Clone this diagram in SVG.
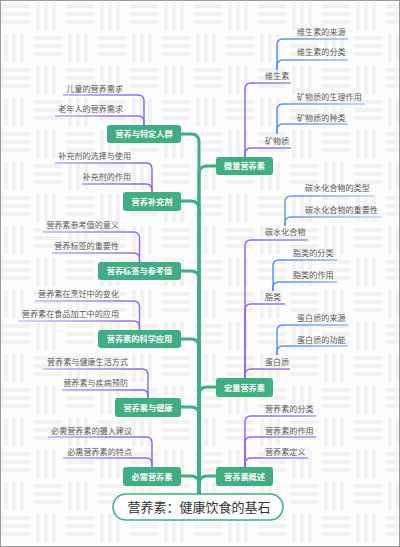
<svg xmlns="http://www.w3.org/2000/svg" width="400" height="547" viewBox="0 0 400 547">
<defs>
<pattern id="bg" x="0" y="0" width="64" height="64" patternUnits="userSpaceOnUse">
<rect width="64" height="64" fill="#fdfdfd"/>
<g fill="#f2f2f2">
<rect x="2" y="4" width="28" height="4"/><rect x="2" y="12" width="28" height="4"/><rect x="2" y="20" width="28" height="4"/>
<rect x="36" y="2" width="4" height="28"/><rect x="44" y="2" width="4" height="28"/><rect x="52" y="2" width="4" height="28"/>
<rect x="4" y="34" width="4" height="28"/><rect x="12" y="34" width="4" height="28"/><rect x="20" y="34" width="4" height="28"/>
<rect x="34" y="36" width="28" height="4"/><rect x="34" y="44" width="28" height="4"/><rect x="34" y="52" width="28" height="4"/>
</g>
</pattern>
<linearGradient id="gL" gradientUnits="userSpaceOnUse" x1="10" y1="0" x2="150" y2="0"><stop offset="0" stop-color="#d8cbf8"/><stop offset="1" stop-color="#8a62e6"/></linearGradient>
<linearGradient id="gR" gradientUnits="userSpaceOnUse" x1="390" y1="0" x2="245" y2="0"><stop offset="0" stop-color="#d8cbf8"/><stop offset="1" stop-color="#8a62e6"/></linearGradient>
<linearGradient id="gB" gradientUnits="userSpaceOnUse" x1="395" y1="0" x2="275" y2="0"><stop offset="0" stop-color="#cfe0f8"/><stop offset="1" stop-color="#4f8fe8"/></linearGradient>
<style>
.trunk{fill:none;stroke:#41ad83;stroke-width:3;stroke-linecap:round}
.pl{fill:none;stroke:url(#gL);stroke-width:1.4}
.pr{fill:none;stroke:url(#gR);stroke-width:1.4}
.bl{fill:none;stroke:url(#gB);stroke-width:1.4}
.box{fill:#41ad83}
.bt{font-family:"Noto Sans CJK SC","Noto Sans",sans-serif;font-size:8.2px;font-weight:bold;fill:#fff;text-anchor:middle}
.t{font-family:"Noto Sans CJK SC","Noto Sans",sans-serif;font-size:8.1px;fill:#5a5a5a}
.te{text-anchor:end}
.root{fill:#fff;stroke:#41ad83;stroke-width:1.5}
.rt{font-family:"Noto Sans CJK SC","Noto Sans",sans-serif;font-size:13px;fill:#333;text-anchor:middle}
</style>
</defs>
<rect width="400" height="547" fill="url(#bg)"/>
<rect x="0.5" y="0.5" width="399" height="546" fill="none" stroke="#9a9a9a"/>

<g id="connectors">
<path class="trunk" d="M199 494 V142 Q199 134 191 134 H181"/>
<path class="trunk" d="M199 494 V209 Q199 201 191 201 H181"/>
<path class="trunk" d="M199 494 V279 Q199 271 191 271 H181"/>
<path class="trunk" d="M199 494 V347 Q199 339 191 339 H181"/>
<path class="trunk" d="M199 494 V415 Q199 407 191 407 H181"/>
<path class="trunk" d="M199 494 V484 Q199 476 191 476 H181"/>
<path class="trunk" d="M199 494 V174 Q199 166 207 166 H216"/>
<path class="trunk" d="M199 494 V395 Q199 387 207 387 H216"/>
<path class="trunk" d="M199 494 V484 Q199 476 207 476 H216"/>

<path class="pl" d="M144 125 V101 Q144 95 138 95 H63"/>
<path class="pl" d="M144 125 V122 Q144 116 138 116 H55"/>
<path class="pl" d="M152 192 V169 Q152 163 146 163 H55"/>
<path class="pl" d="M152 192 V190 Q152 184 146 184 H82"/>
<path class="pl" d="M139.5 262 V238 Q139.5 232 133.5 232 H43"/>
<path class="pl" d="M139.5 262 V259 Q139.5 253 133.5 253 H52"/>
<path class="pl" d="M139.5 330 V307 Q139.5 301 133.5 301 H35"/>
<path class="pl" d="M139.5 330 V327 Q139.5 321 133.5 321 H18"/>
<path class="pl" d="M148 398 V375 Q148 369 142 369 H43"/>
<path class="pl" d="M148 398 V396 Q148 390 142 390 H62"/>
<path class="pl" d="M152 467 V443 Q152 437 146 437 H48"/>
<path class="pl" d="M152 467 V464 Q152 458 146 458 H63"/>

<path class="pr" d="M245 157 V89 Q245 83 251 83 H291"/>
<path class="pr" d="M245 157 V154 Q245 148 251 148 H291"/>
<path class="pr" d="M245 378 V246 Q245 240 251 240 H308"/>
<path class="pr" d="M245 378 V310 Q245 304 251 304 H285"/>
<path class="pr" d="M245 378 V375 Q245 369 251 369 H290"/>
<path class="pr" d="M245 467 V422 Q245 416 251 416 H316"/>
<path class="pr" d="M245 467 V443 Q245 437 251 437 H316"/>
<path class="pr" d="M245 467 V464 Q245 458 251 458 H308"/>

<path class="bl" d="M277 70 V45 Q277 39 283 39 H348"/>
<path class="bl" d="M277 70 V66 Q277 60 283 60 H348"/>
<path class="bl" d="M277 134 V110 Q277 104 283 104 H365"/>
<path class="bl" d="M277 134 V130 Q277 124 283 124 H348"/>
<path class="bl" d="M285 226 V202 Q285 196 291 196 H373"/>
<path class="bl" d="M285 226 V223 Q285 217 291 217 H382"/>
<path class="bl" d="M273 291 V266 Q273 260 279 260 H337"/>
<path class="bl" d="M273 291 V288 Q273 282 279 282 H337"/>
<path class="bl" d="M277 355 V331 Q277 325 283 325 H348"/>
<path class="bl" d="M277 355 V352 Q277 346 283 346 H348"/>
</g>

<g id="root"><rect class="root" x="113" y="494" width="170" height="26" rx="13"/><text class="rt" x="199" y="512">营养素：健康饮食的基石</text></g>

<g id="n-tedingrenqun"><rect class="box" x="107" y="125" width="74" height="18" rx="3"/><text class="bt" x="144" y="137">营养与特定人群</text></g>
<g id="n-buchongji"><rect class="box" x="123" y="192" width="58" height="19" rx="3"/><text class="bt" x="152" y="204.5">营养补充剂</text></g>
<g id="n-biaoqian"><rect class="box" x="98" y="262" width="83" height="18" rx="3"/><text class="bt" x="139.5" y="274">营养标签与参考值</text></g>
<g id="n-kexue"><rect class="box" x="98" y="330" width="83" height="18" rx="3"/><text class="bt" x="139.5" y="342">营养素的科学应用</text></g>
<g id="n-jiankang"><rect class="box" x="115" y="398" width="66" height="19" rx="3"/><text class="bt" x="148" y="410.5">营养素与健康</text></g>
<g id="n-bixu"><rect class="box" x="123" y="467" width="58" height="19" rx="3"/><text class="bt" x="152" y="479.5">必需营养素</text></g>
<g id="n-weiliang"><rect class="box" x="216" y="157" width="57" height="18" rx="3"/><text class="bt" x="244.5" y="169">微量营养素</text></g>
<g id="n-hongliang"><rect class="box" x="216" y="378" width="57" height="19" rx="3"/><text class="bt" x="244.5" y="390.5">宏量营养素</text></g>
<g id="n-gaishu"><rect class="box" x="216" y="467" width="57" height="19" rx="3"/><text class="bt" x="244.5" y="479.5">营养素概述</text></g>

<g id="l-ertong"><text class="t te" x="123" y="92">儿童的营养需求</text></g>
<g id="l-laonian"><text class="t te" x="123" y="112">老年人的营养需求</text></g>
<g id="l-xuanze"><text class="t te" x="131" y="159">补充剂的选择与使用</text></g>
<g id="l-zuoyong1"><text class="t te" x="131" y="180">补充剂的作用</text></g>
<g id="l-yiyi"><text class="t te" x="119" y="228">营养素参考值的意义</text></g>
<g id="l-zhongyao"><text class="t te" x="119" y="249">营养标签的重要性</text></g>
<g id="l-pengren"><text class="t te" x="119" y="297">营养素在烹饪中的变化</text></g>
<g id="l-jiagong"><text class="t te" x="119" y="317">营养素在食品加工中的应用</text></g>
<g id="l-shenghuo"><text class="t te" x="128" y="365">营养素与健康生活方式</text></g>
<g id="l-jibing"><text class="t te" x="128" y="386">营养素与疾病预防</text></g>
<g id="l-sheru"><text class="t te" x="132" y="434">必需营养素的摄入建议</text></g>
<g id="l-tedian"><text class="t te" x="132" y="455">必需营养素的特点</text></g>

<g id="r-weishengsu"><text class="t" x="265" y="79">维生素</text></g>
<g id="r-ws-laiyuan"><text class="t" x="297" y="35">维生素的来源</text></g>
<g id="r-ws-fenlei"><text class="t" x="297" y="55">维生素的分类</text></g>
<g id="r-kuangwuzhi"><text class="t" x="265" y="144">矿物质</text></g>
<g id="r-kw-shengli"><text class="t" x="297" y="100">矿物质的生理作用</text></g>
<g id="r-kw-zhonglei"><text class="t" x="297" y="121">矿物质的种类</text></g>
<g id="r-tanshui"><text class="t" x="265" y="235">碳水化合物</text></g>
<g id="r-ts-leixing"><text class="t" x="305" y="191">碳水化合物的类型</text></g>
<g id="r-ts-zhongyao"><text class="t" x="305" y="213">碳水化合物的重要性</text></g>
<g id="r-zhilei"><text class="t" x="265" y="300">脂类</text></g>
<g id="r-zl-fenlei"><text class="t" x="293" y="256">脂类的分类</text></g>
<g id="r-zl-zuoyong"><text class="t" x="293" y="278">脂类的作用</text></g>
<g id="r-danbaizhi"><text class="t" x="265" y="365">蛋白质</text></g>
<g id="r-db-laiyuan"><text class="t" x="297" y="321">蛋白质的来源</text></g>
<g id="r-db-gongneng"><text class="t" x="297" y="343">蛋白质的功能</text></g>
<g id="r-gs-fenlei"><text class="t" x="265" y="412">营养素的分类</text></g>
<g id="r-gs-zuoyong"><text class="t" x="265" y="434">营养素的作用</text></g>
<g id="r-gs-dingyi"><text class="t" x="265" y="455">营养素定义</text></g>
</svg>
